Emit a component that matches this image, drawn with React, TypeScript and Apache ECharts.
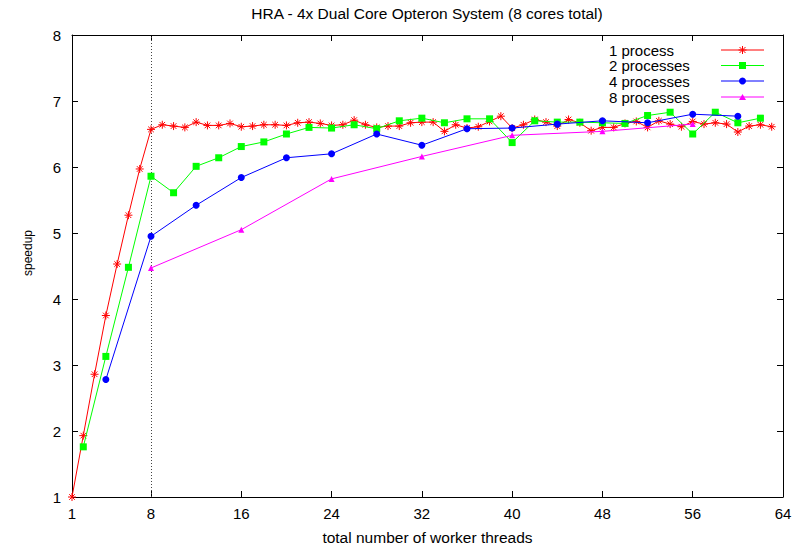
import React, { useEffect, useRef } from "react";
import * as echarts from "echarts";

const FONT = '"Liberation Sans", Arial, Helvetica, sans-serif';

const titleText = "HRA - 4x Dual Core Opteron System (8 cores total)";
const xName = "total number of worker threads";
const yName = "speedup";

const xTicks = [1, 8, 16, 24, 32, 40, 48, 56, 64];
const yTicks = [1, 2, 3, 4, 5, 6, 7, 8];

const seriesNames = ["1 process", "2 processes", "4 processes", "8 processes"];
const seriesColors = ["#ff0000", "#00ff00", "#0000ff", "#ff00ff"];

const threads1 = [
  1, 2, 3, 4, 5, 6, 7, 8, 9, 10, 11, 12, 13, 14, 15, 16, 17, 18, 19, 20, 21,
  22, 23, 24, 25, 26, 27, 28, 29, 30, 31, 32, 33, 34, 35, 36, 37, 38, 39, 40,
  41, 42, 43, 44, 45, 46, 47, 48, 49, 50, 51, 52, 53, 54, 55, 56, 57, 58, 59,
  60, 61, 62, 63,
];
const speedup1 = [
  1.0, 1.93, 2.86, 3.75, 4.53, 5.27, 5.97, 6.57, 6.64, 6.62, 6.6, 6.68, 6.63,
  6.63, 6.66, 6.61, 6.62, 6.64, 6.64, 6.63, 6.67, 6.68, 6.66, 6.63, 6.64, 6.71,
  6.64, 6.6, 6.62, 6.62, 6.67, 6.68, 6.68, 6.54, 6.64, 6.59, 6.61, 6.69, 6.77,
  6.59, 6.64, 6.72, 6.68, 6.62, 6.72, 6.67, 6.55, 6.6, 6.6, 6.66, 6.69, 6.6,
  6.7, 6.65, 6.61, 6.69, 6.65, 6.67, 6.65, 6.53, 6.62, 6.64, 6.61,
];

const threads2 = [
  2, 4, 6, 8, 10, 12, 14, 16, 18, 20, 22, 24, 26, 28, 30, 32, 34, 36, 38, 40,
  42, 44, 46, 48, 50, 52, 54, 56, 58, 60, 62,
];
const speedup2 = [
  1.76, 3.13, 4.48, 5.86, 5.61, 6.01, 6.14, 6.31, 6.38, 6.5, 6.6, 6.59, 6.64,
  6.58, 6.7, 6.74, 6.67, 6.73, 6.73, 6.37, 6.7, 6.68, 6.68, 6.67, 6.66, 6.78,
  6.83, 6.5, 6.83, 6.67, 6.74,
];

const threads4 = [4, 8, 12, 16, 20, 24, 28, 32, 36, 40, 44, 48, 52, 56, 60];
const speedup4 = [
  2.78, 4.95, 5.42, 5.84, 6.14, 6.2, 6.5, 6.33, 6.58, 6.59, 6.65, 6.7, 6.67,
  6.8, 6.77,
];

const threads8 = [8, 16, 24, 32, 40, 48, 56];
const speedup8 = [4.47, 5.05, 5.82, 6.16, 6.48, 6.54, 6.65];

const markerLine = 8;

const ASTERISK =
  "path://M0 5L10 5M5 0L5 10M1.5 1.5L8.5 8.5M8.5 1.5L1.5 8.5";

const zip = (xs: number[], ys: number[]) => xs.map((x, i) => [x, ys[i]]);

export default function App() {
  const ref = useRef<HTMLDivElement>(null);

  useEffect(() => {
    if (!ref.current) return;
    const chart = echarts.init(ref.current, null, { renderer: "svg" });

    const axisLine = {
      show: true,
      onZero: false,
      lineStyle: { color: "#000", width: 1 },
    };
    const tick = (vals: number[]) => ({
      show: true,
      inside: true,
      length: 6,
      customValues: vals,
      lineStyle: { color: "#000", width: 1 },
    });

    const symbols = [ASTERISK, "rect", "circle", "triangle"];
    const sizes = [8, 7, 7, 6];
    const datasets = [
      zip(threads1, speedup1),
      zip(threads2, speedup2),
      zip(threads4, speedup4),
      zip(threads8, speedup8),
    ];

    const series: any[] = datasets.map((d, i) => ({
      name: seriesNames[i],
      type: "line",
      data: d,
      symbol: symbols[i],
      symbolSize: sizes[i],
      showAllSymbol: true,
      clip: false,
      lineStyle: { color: seriesColors[i], width: 1 },
      itemStyle:
        i === 0
          ? { color: seriesColors[i], borderColor: seriesColors[i], borderWidth: 1 }
          : { color: seriesColors[i], borderWidth: 0 },
      emphasis: { disabled: true },
      z: 3 + i,
    }));
    series[0].markLine = {
      silent: true,
      symbol: "none",
      label: { show: false },
      lineStyle: { type: [1, 2], color: "#444", width: 1 },
      data: [{ xAxis: markerLine }],
      z: 1,
    };

    // legend built from graphic elements (gnuplot style key)
    const legendRows = [50, 65.5, 81, 97];
    const lx1 = 721;
    const lx2 = 764;
    const lmx = 742.5;
    const legendEls: any[] = [];
    legendRows.forEach((ry, i) => {
      const c = seriesColors[i];
      legendEls.push({
        type: "text",
        x: 609,
        y: ry,
        style: {
          text: seriesNames[i],
          fill: "#000",
          font: `15px ${FONT}`,
          textAlign: "left",
          textVerticalAlign: "middle",
        },
      });
      legendEls.push({
        type: "line",
        shape: { x1: lx1, y1: ry, x2: lx2, y2: ry },
        style: { stroke: c, lineWidth: 1 },
      });
      if (i === 0) {
        const r = 4;
        const d = 3;
        legendEls.push({
          type: "group",
          children: [
            { type: "line", shape: { x1: lmx - r, y1: ry, x2: lmx + r, y2: ry }, style: { stroke: c, lineWidth: 1 } },
            { type: "line", shape: { x1: lmx, y1: ry - r, x2: lmx, y2: ry + r }, style: { stroke: c, lineWidth: 1 } },
            { type: "line", shape: { x1: lmx - d, y1: ry - d, x2: lmx + d, y2: ry + d }, style: { stroke: c, lineWidth: 1 } },
            { type: "line", shape: { x1: lmx - d, y1: ry + d, x2: lmx + d, y2: ry - d }, style: { stroke: c, lineWidth: 1 } },
          ],
        });
      } else if (i === 1) {
        legendEls.push({
          type: "rect",
          shape: { x: lmx - 3.5, y: ry - 3.5, width: 7, height: 7 },
          style: { fill: c },
        });
      } else if (i === 2) {
        legendEls.push({
          type: "circle",
          shape: { cx: lmx, cy: ry, r: 3.5 },
          style: { fill: c },
        });
      } else {
        legendEls.push({
          type: "polygon",
          shape: { points: [[lmx, ry - 3], [lmx + 3.5, ry + 3], [lmx - 3.5, ry + 3]] },
          style: { fill: c },
        });
      }
    });

    chart.setOption({
      animation: false,
      backgroundColor: "#fff",
      textStyle: { fontFamily: FONT },
      grid: { left: 72, right: 20, top: 35, bottom: 48, containLabel: false },
      xAxis: [
        {
          type: "value",
          min: 1,
          max: 64,
          position: "bottom",
          axisLine,
          axisTick: tick(xTicks),
          axisLabel: {
            customValues: xTicks,
            color: "#000",
            fontSize: 15,
            margin: 9,
            fontFamily: FONT,
          },
          splitLine: { show: false },
          name: xName,
          nameLocation: "middle",
          nameGap: 32,
          nameTextStyle: { color: "#000", fontSize: 15.5, fontFamily: FONT },
        },
        {
          type: "value",
          min: 1,
          max: 64,
          position: "top",
          axisLine,
          axisTick: tick(xTicks),
          axisLabel: { show: false },
          splitLine: { show: false },
        },
      ],
      yAxis: [
        {
          type: "value",
          min: 1,
          max: 8,
          interval: 1,
          position: "left",
          axisLine,
          axisTick: tick(yTicks),
          axisLabel: {
            color: "#000",
            fontSize: 15,
            margin: 11,
            fontFamily: FONT,
          },
          splitLine: { show: false },
        },
        {
          type: "value",
          min: 1,
          max: 8,
          interval: 1,
          position: "right",
          axisLine,
          axisTick: tick(yTicks),
          axisLabel: { show: false },
          splitLine: { show: false },
        },
      ],
      graphic: [
        {
          type: "text",
          x: 427,
          y: 13,
          style: {
            text: titleText,
            fill: "#000",
            font: `15.5px ${FONT}`,
            textAlign: "center",
            textVerticalAlign: "middle",
          },
        },
        {
          type: "text",
          x: 28,
          y: 253,
          rotation: Math.PI / 2,
          style: {
            text: yName,
            fill: "#000",
            font: `12px ${FONT}`,
            textAlign: "center",
            textVerticalAlign: "middle",
          },
        },
        ...legendEls,
      ],
      series,
    });

    return () => chart.dispose();
  }, []);

  return (
    <div
      ref={ref}
      style={{ position: "fixed", left: 0, top: 0, width: 803, height: 550 }}
    />
  );
}
